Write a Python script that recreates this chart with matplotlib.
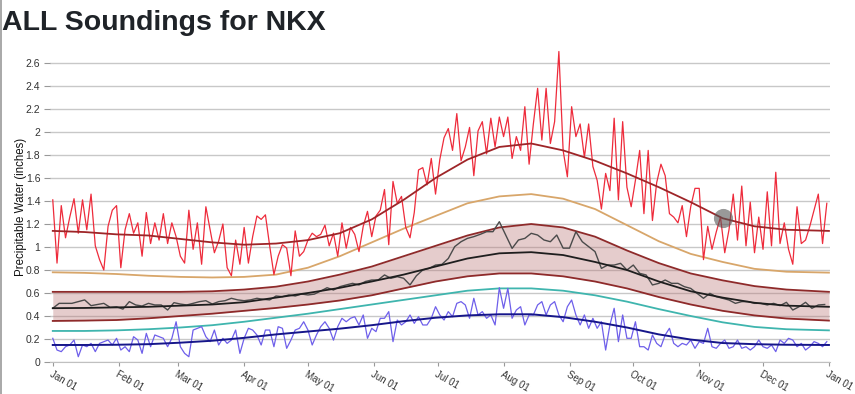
import matplotlib; matplotlib.use("Agg")
import matplotlib.pyplot as plt
import numpy as np

plt.rcParams.update({"font.family": ["Liberation Sans", "DejaVu Sans"]})

# ---- data (inches of precipitable water, day-of-year) ----
month_days = [0, 31, 59, 90, 120, 151, 181, 212, 243, 273, 304, 334, 365]
month_labels = ["Jan 01", "Feb 01", "Mar 01", "Apr 01", "May 01", "Jun 01", "Jul 01",
                "Aug 01", "Sep 01", "Oct 01", "Nov 01", "Dec 01", "Jan 01"]
yticks = [0, 0.2, 0.4, 0.6, 0.8, 1, 1.2, 1.4, 1.6, 1.8, 2, 2.2, 2.4, 2.6]

# daily max observed (every 2nd day)
max_days = np.arange(0, 365, 2)
max_obs = [1.41, 0.86, 1.36, 1.08, 1.26, 1.42, 1.12, 1.41, 1.15, 1.46,
           1.01, 0.89, 0.80, 1.18, 1.32, 1.36, 0.82, 1.15, 1.29, 1.12,
           1.21, 0.92, 1.30, 1.03, 1.21, 1.06, 1.29, 1.03, 1.21, 1.09,
           0.92, 0.86, 1.32, 0.98, 1.21, 0.85, 1.35, 1.15, 0.95, 1.05,
           1.20, 0.82, 0.75, 1.06, 0.85, 1.17, 0.86,
           1.09, 1.27, 1.24, 1.28, 1.01, 0.76, 0.92, 1.02, 0.99, 0.75,
           1.14, 0.92, 0.96, 1.06, 1.12, 1.09, 1.11, 1.19, 1.01, 1.12,
           0.92, 1.21, 0.99, 1.17, 1.11, 0.96, 1.18, 1.31, 1.09, 1.27,
           1.32, 1.50, 1.02, 1.57, 1.38, 1.44, 1.17, 1.08, 1.30, 1.67,
           1.69, 1.54, 1.77, 1.46, 1.76, 1.95, 2.03,
           1.84, 2.16, 1.75, 1.87, 2.04, 1.62, 2.01, 2.09, 1.81, 2.12,
           1.87, 2.13, 1.96, 2.13, 1.77, 1.96, 1.84, 2.22, 1.72, 2.07,
           2.38, 1.93, 2.38, 1.90, 2.09, 2.70, 1.84, 1.61, 2.22, 1.96,
           2.07, 1.78, 2.07, 1.70, 1.58, 1.33, 1.64, 1.49, 2.12, 1.41,
           2.09, 1.52, 1.35, 1.58, 1.84, 1.29, 1.84,
           1.23, 1.56, 1.72, 1.62, 1.29, 1.26, 1.21, 1.36, 1.09, 1.35,
           1.51, 1.51, 0.89, 1.18, 0.98, 1.13, 1.26, 0.95, 1.15, 1.46,
           1.06, 1.53, 1.01, 1.39, 0.95, 1.26, 0.98, 1.48, 1.01, 1.65,
           1.03, 1.21, 0.98, 0.85, 1.35, 1.03, 1.06, 1.18, 1.32, 1.46,
           1.03, 1.38]

# daily mean observed (every 3rd day)
mean_days = np.arange(0, 364, 3)
mean_obs = [0.467, 0.51, 0.51, 0.51, 0.525, 0.54, 0.49, 0.50, 0.51, 0.475,
            0.48, 0.46, 0.525, 0.496, 0.487, 0.51, 0.496, 0.496, 0.452, 0.516,
            0.504, 0.496, 0.51, 0.525, 0.533, 0.504, 0.525, 0.533, 0.554, 0.54,
            0.533, 0.54, 0.554, 0.545, 0.54, 0.574, 0.568, 0.583, 0.574, 0.591,
            0.583,
            0.59, 0.617, 0.646, 0.626, 0.655, 0.67, 0.684, 0.67, 0.70, 0.713,
            0.713, 0.757, 0.728, 0.742, 0.728, 0.67, 0.75, 0.80, 0.814, 0.843,
            0.849, 0.90, 1.003, 1.046, 1.075, 1.09, 1.11, 1.133, 1.133, 1.22,
            1.104, 0.988, 1.061, 1.075, 1.119, 1.104, 1.061, 1.046, 1.104, 0.99,
            0.99,
            1.133, 1.046, 1.003, 0.96, 0.814, 0.843, 0.843, 0.858, 0.80, 0.843,
            0.771, 0.757, 0.67, 0.684, 0.713, 0.684, 0.684, 0.655, 0.64, 0.597,
            0.554, 0.597, 0.568, 0.554, 0.539, 0.51, 0.525, 0.525, 0.51, 0.51,
            0.496, 0.51, 0.49, 0.519, 0.452, 0.481, 0.519, 0.467, 0.496, 0.50]

# daily min observed (every 2nd day)
min_days = np.arange(0, 365, 2)
min_obs = [0.206, 0.104, 0.09, 0.133, 0.148, 0.191, 0.046, 0.148, 0.133, 0.162,
           0.09, 0.162, 0.177, 0.191, 0.148, 0.206, 0.104, 0.133, 0.09, 0.22,
           0.191, 0.075, 0.249, 0.133, 0.235, 0.22, 0.206, 0.133, 0.206, 0.35,
           0.133, 0.075, 0.046, 0.278, 0.293, 0.307, 0.22, 0.177, 0.278, 0.148,
           0.206, 0.162, 0.191, 0.278, 0.075, 0.206, 0.293, 0.278, 0.235, 0.148,
           0.278, 0.278, 0.133, 0.307, 0.293, 0.119, 0.191, 0.278, 0.293, 0.35,
           0.278,
           0.148, 0.235, 0.307, 0.35, 0.293, 0.19, 0.307, 0.38, 0.35, 0.38,
           0.394, 0.322, 0.409, 0.206, 0.293, 0.264, 0.38, 0.38, 0.438, 0.177,
           0.365, 0.322, 0.35, 0.409, 0.336, 0.394, 0.322, 0.322, 0.38, 0.481,
           0.409, 0.365, 0.438, 0.394, 0.51, 0.525, 0.496, 0.38, 0.554, 0.409,
           0.438, 0.38, 0.409, 0.322, 0.646, 0.467, 0.64, 0.38, 0.452, 0.481,
           0.322, 0.409, 0.409, 0.496, 0.525, 0.409, 0.496, 0.525, 0.409, 0.35,
           0.481,
           0.539, 0.409, 0.322, 0.409, 0.293, 0.38, 0.293, 0.35, 0.104, 0.322,
           0.467, 0.177, 0.409, 0.206, 0.206, 0.35, 0.133, 0.133, 0.104, 0.235,
           0.162, 0.133, 0.235, 0.293, 0.162, 0.133, 0.162, 0.148, 0.191, 0.119,
           0.177, 0.162, 0.293, 0.133, 0.119, 0.162, 0.191, 0.119, 0.133, 0.191,
           0.119, 0.133, 0.104, 0.133, 0.191, 0.133, 0.119, 0.148, 0.09, 0.191,
           0.162, 0.206, 0.191, 0.133, 0.162, 0.104, 0.133, 0.177, 0.162, 0.133,
           0.177]

# climatology curves
clim_days = [0, 15, 30, 45, 60, 75, 90, 105, 120, 135, 150, 165, 180,
             195, 210, 225, 240, 255, 270, 285, 300, 315, 330, 345, 365]
clim_max = [1.14, 1.13, 1.11, 1.10, 1.07, 1.04, 1.02, 1.03, 1.06, 1.12, 1.24, 1.41, 1.60,
            1.76, 1.87, 1.90, 1.84, 1.75, 1.64, 1.52, 1.39, 1.25, 1.18, 1.15, 1.14]
clim_p98 = [0.78, 0.775, 0.765, 0.75, 0.74, 0.735, 0.74, 0.76, 0.82, 0.92, 1.04, 1.16, 1.27,
            1.38, 1.44, 1.46, 1.42, 1.33, 1.19, 1.05, 0.94, 0.87, 0.81, 0.785, 0.777]
clim_p75 = [0.61, 0.61, 0.61, 0.61, 0.61, 0.615, 0.63, 0.655, 0.70, 0.76, 0.83, 0.92, 1.01,
            1.10, 1.17, 1.20, 1.17, 1.09, 0.97, 0.86, 0.77, 0.71, 0.66, 0.63, 0.61]
clim_p25 = [0.357, 0.36, 0.365, 0.38, 0.40, 0.42, 0.445, 0.47, 0.50, 0.535, 0.58, 0.64, 0.70,
            0.745, 0.77, 0.77, 0.745, 0.70, 0.64, 0.565, 0.50, 0.445, 0.405, 0.378, 0.36]
clim_mean = [0.468, 0.47, 0.475, 0.48, 0.49, 0.50, 0.52, 0.56, 0.60, 0.645, 0.70, 0.76, 0.83,
             0.90, 0.945, 0.955, 0.93, 0.87, 0.80, 0.70, 0.615, 0.56, 0.515, 0.49, 0.48]
clim_p02 = [0.27, 0.27, 0.275, 0.285, 0.30, 0.32, 0.35, 0.385, 0.42, 0.46, 0.50, 0.54, 0.58,
            0.62, 0.64, 0.64, 0.62, 0.58, 0.525, 0.46, 0.40, 0.345, 0.305, 0.285, 0.275]
clim_min = [0.148, 0.148, 0.15, 0.155, 0.168, 0.185, 0.21, 0.24, 0.265, 0.29, 0.32, 0.355, 0.385,
            0.405, 0.415, 0.415, 0.39, 0.35, 0.30, 0.24, 0.195, 0.165, 0.155, 0.15, 0.148]
hover_idx = 21  # hovered point on the max curve

# ---- figure ----
W, H = 855, 394
fig = plt.figure(figsize=(W / 100, H / 100), dpi=100)
ax = fig.add_axes([50 / W, (H - 362) / H, 780 / W, (362 - 51.5) / H])

RED = "#EE2B3B"; DRED = "#9E2528"; TAN = "#D8A66A"; BAND = "#8E2A2A"
GRAY = "#4A4A4A"; BLACK = "#1E1E1E"; TEAL = "#3FB5AE"; BLUE = "#6E5FEA"; NAVY = "#16168A"

ax.fill_between(clim_days, clim_p25, clim_p75, color="#B87272", alpha=0.36, lw=0, zorder=1)
ax.plot(clim_days, clim_p75, color=BAND, lw=1.3, zorder=3)
ax.plot(clim_days, clim_p25, color=BAND, lw=1.3, zorder=3)
ax.plot(clim_days, clim_p98, color=TAN, lw=1.3, zorder=3)
ax.plot(clim_days, clim_p02, color=TEAL, lw=1.3, zorder=3)

ax.plot(max_days, max_obs, color=RED, lw=0.9, zorder=4, clip_on=False)
ax.plot(mean_days, mean_obs, color=GRAY, lw=1.0, zorder=4)
ax.plot(min_days, min_obs, color=BLUE, lw=0.9, zorder=4)

ax.plot(clim_days, clim_max, color=DRED, lw=1.3, zorder=5)
ax.plot(clim_days, clim_mean, color=BLACK, lw=1.3, zorder=5)
ax.plot(clim_days, clim_min, color=NAVY, lw=1.4, zorder=5)

ax.scatter([clim_days[hover_idx]], [clim_max[hover_idx]], s=190, color="#555555",
           alpha=0.6, zorder=6, lw=0)

ax.set_xlim(-1.3, 365.5)
ax.set_ylim(0, 2.7)
ax.set_yticks(yticks)
ax.set_yticklabels([f"{t:g}" for t in yticks], fontsize=7.5, color="#333333")
ax.set_xticks(month_days)
ax.set_xticklabels(month_labels, fontsize=7, color="#333333", rotation=-30,
                   ha="left", va="top", rotation_mode="anchor")
ax.tick_params(axis="y", length=4, width=0.8, color="#999999", pad=3)
ax.tick_params(axis="x", length=3, width=0.8, color="#999999", pad=2)
ax.grid(True, axis="y", color="#C8C8C8", lw=1.0)
ax.set_axisbelow(True)
for sp in ["top", "right", "left"]:
    ax.spines[sp].set_visible(False)
ax.spines["bottom"].set_color("#C0C0C0")
ax.set_ylabel("Precipitable Water (inches)", fontsize=8.3, color="#111111", labelpad=-1)

fig.text(2 / W, 1 - 30 / H, "ALL Soundings for NKX", fontsize=20.5, fontweight="bold",
         color="#1F2328", ha="left", va="baseline")
fig.add_artist(plt.Line2D([0.6 / W, 0.6 / W], [0, 1], color="#9A9A9A", lw=1.2))

fig.savefig("out.png", dpi=100, facecolor="white")
plt.close(fig)
